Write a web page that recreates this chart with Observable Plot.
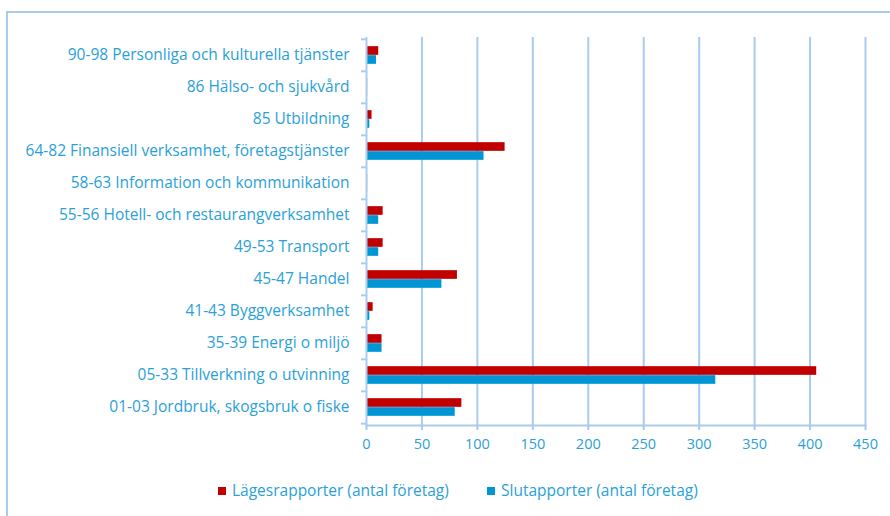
<!DOCTYPE html>
<html>
<head>
<meta charset="utf-8">
<script src="https://cdn.jsdelivr.net/npm/d3@7"></script>
<script src="https://cdn.jsdelivr.net/npm/@observablehq/plot@0.6"></script>
<style>
  html, body { margin: 0; padding: 0; background: #fff; }
  #wrap { position: relative; width: 890px; height: 516px; overflow: hidden; font-family: "Open Sans", sans-serif; }
  #frame { position: absolute; left: 6px; top: 11px; width: 900px; height: 520px; border-left: 2px solid #a9cbec; border-top: 2px solid #a9cbec; }
  #chart { position: absolute; left: 0; top: 0; }
  #legend { position: absolute; top: 479px; left: 0; width: 890px; font-size: 15.5px; color: #2a9fd8; }
  .item { position: absolute; top: 0; white-space: nowrap; }
  .sw { display: inline-block; width: 8px; height: 8px; margin-right: 6px; vertical-align: 1px; }
</style>
</head>
<body>
<div id="wrap">
  <div id="frame"></div>
  <div id="chart"></div>
  <div id="legend"></div>
</div>
<script>
const categories = [
  "90-98 Personliga och kulturella tjänster",
  "86 Hälso- och sjukvård",
  "85 Utbildning",
  "64-82 Finansiell verksamhet, företagstjänster",
  "58-63 Information och kommunikation",
  "55-56 Hotell- och restaurangverksamhet",
  "49-53 Transport",
  "45-47 Handel",
  "41-43 Byggverksamhet",
  "35-39 Energi o miljö",
  "05-33 Tillverkning o utvinning",
  "01-03 Jordbruk, skogsbruk o fiske"
];
const lagesrapporter = [11, 1, 5, 125, 1, 15, 15, 82, 6, 14, 406, 86];
const slutapporter   = [9, 1, 3, 106, 1, 11, 11, 68, 3, 14, 315, 80];
const seriesNames = ["Lägesrapporter (antal företag)", "Slutapporter (antal företag)"];
const seriesColors = ["#c00000", "#0096d6"];
const xTicks = [0, 50, 100, 150, 200, 250, 300, 350, 400, 450];

const textColor = "#2a9fd8";
const gridColor = "#a9cbec";

const W = 890, H = 462;
const mTop = 37, mBottom = H - 425, mLeft = 366, mRight = 25;
const bw = (H - mTop - mBottom) / categories.length;

const red = categories.map((c, i) => ({cat: c, v: lagesrapporter[i]}));
const blue = categories.map((c, i) => ({cat: c, v: slutapporter[i]}));
const last = categories[categories.length - 1];

const chart = Plot.plot({
  width: W,
  height: H,
  marginTop: mTop,
  marginBottom: mBottom,
  marginLeft: mLeft,
  marginRight: mRight,
  style: {fontFamily: "Open Sans, sans-serif", fontSize: "15.5px", color: textColor, background: "transparent"},
  x: {domain: [0, 450], ticks: xTicks},
  y: {domain: categories, padding: 0},
  marks: [
    Plot.ruleX(xTicks.slice(1), {stroke: gridColor, strokeWidth: 2}),
    Plot.barX(red, {y: "cat", x: "v", fill: seriesColors[0], insetTop: bw / 2 - 9, insetBottom: bw / 2}),
    Plot.barX(blue, {y: "cat", x: "v", fill: seriesColors[1], insetTop: bw / 2, insetBottom: bw / 2 - 9}),
    Plot.ruleX([0], {stroke: gridColor, strokeWidth: 2}),
    Plot.frame({anchor: "bottom", stroke: gridColor, strokeWidth: 2}),
    Plot.axisX({ticks: xTicks, tickSize: 5, tickPadding: 8, stroke: gridColor, strokeWidth: 2, fill: textColor, fontSize: 14.5, label: null}),
    Plot.axisY({ticks: categories, tickSize: 0, tickPadding: 17, fill: textColor, fontSize: 15.5, label: null}),
    Plot.axisY({ticks: categories, tickSize: 5, tickFormat: () => "", stroke: gridColor, strokeWidth: 2, dy: -bw / 2, label: null}),
    Plot.axisY({ticks: [last], tickSize: 5, tickFormat: () => "", stroke: gridColor, strokeWidth: 2, dy: bw / 2, label: null})
  ]
});
document.getElementById("chart").appendChild(chart);

const legend = document.getElementById("legend");
const lefts = [218, 487];
seriesNames.forEach((name, i) => {
  const it = document.createElement("div");
  it.className = "item";
  it.style.left = lefts[i] + "px";
  it.innerHTML = `<span class="sw" style="background:${seriesColors[i]}"></span>${name}`;
  legend.appendChild(it);
});
</script>
</body>
</html>
